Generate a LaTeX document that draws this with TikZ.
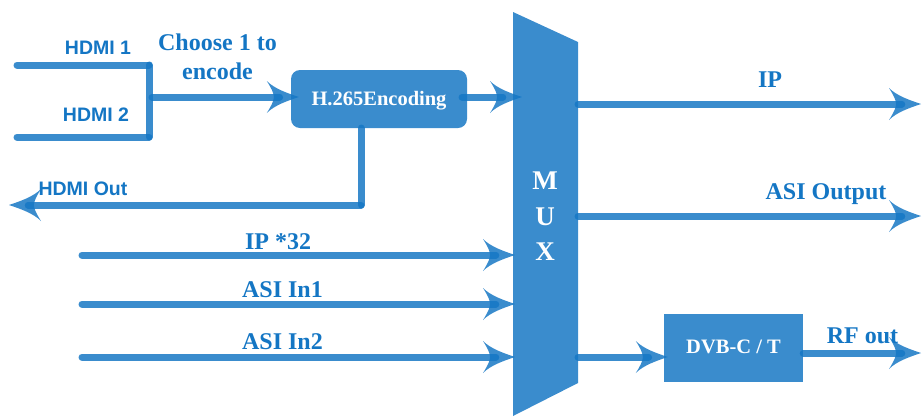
\documentclass[tikz,border=0pt]{standalone}
\usepackage{fontspec}
\setmainfont{Liberation Serif}
\setsansfont{Liberation Sans}
\usetikzlibrary{arrows.meta}
\definecolor{lineblue}{RGB}{20,118,196}

% arrow head with concave, swept-back barbs
\pgfdeclarearrow{
  name = Swept,
  parameters = {\the\pgfarrowlength,\the\pgfarrowwidth},
  setup code = {
    \pgfarrowssettipend{0pt}
    \pgfarrowssetlineend{-0.6\pgfarrowlength}
    \pgfarrowssetbackend{-\pgfarrowlength}
    \pgfarrowssavethe\pgfarrowlength
    \pgfarrowssavethe\pgfarrowwidth
  },
  drawing code = {
    \pgfpathmoveto{\pgfqpoint{0pt}{0pt}}
    \pgfpathcurveto{\pgfqpoint{-0.35\pgfarrowlength}{0.12\pgfarrowwidth}}
                   {\pgfqpoint{-0.75\pgfarrowlength}{0.25\pgfarrowwidth}}
                   {\pgfqpoint{-\pgfarrowlength}{0.5\pgfarrowwidth}}
    \pgfpathcurveto{\pgfqpoint{-0.86\pgfarrowlength}{0.28\pgfarrowwidth}}
                   {\pgfqpoint{-0.78\pgfarrowlength}{0.12\pgfarrowwidth}}
                   {\pgfqpoint{-0.78\pgfarrowlength}{0pt}}
    \pgfpathcurveto{\pgfqpoint{-0.78\pgfarrowlength}{-0.12\pgfarrowwidth}}
                   {\pgfqpoint{-0.86\pgfarrowlength}{-0.28\pgfarrowwidth}}
                   {\pgfqpoint{-\pgfarrowlength}{-0.5\pgfarrowwidth}}
    \pgfpathcurveto{\pgfqpoint{-0.75\pgfarrowlength}{-0.25\pgfarrowwidth}}
                   {\pgfqpoint{-0.35\pgfarrowlength}{-0.12\pgfarrowwidth}}
                   {\pgfqpoint{0pt}{0pt}}
    \pgfpathclose
    \pgfusepathqfill
  },
  defaults = {length = 30pt, width = 32pt}
}

\begin{document}
\begin{tikzpicture}[x=1pt,y=-1pt,
  wire/.style={draw=lineblue, opacity=0.84, line width=7pt, line cap=round},
  arr/.style={wire, -{Swept[length=32pt,width=32pt]}},
  blockbox/.style={fill=lineblue, fill opacity=0.84, inner sep=0pt},
  boxtext/.style={text=white, anchor=base, inner sep=0pt,
    font=\bfseries\fontsize{20.5}{24}\selectfont},
  lbl/.style={text=lineblue, anchor=base, inner sep=0pt,
    font=\bfseries\fontsize{24}{28}\selectfont},
  slbl/.style={text=lineblue, anchor=base, inner sep=0pt,
    font=\sffamily\bfseries\fontsize{19.5}{23}\selectfont},
  muxletter/.style={text=white, anchor=base, inner sep=0pt,
    font=\bfseries\fontsize{27}{30}\selectfont}]
\useasboundingbox (0,0) rectangle (922,416);

% multiplexer body
\fill[lineblue, opacity=0.84] (513,12) -- (578,42) -- (578,383) -- (513,416) -- cycle;
\node[muxletter] (muxM) at (545,189) {M};
\node[muxletter] (muxU) at (545,225) {U};
\node[muxletter] (muxX) at (545,260) {X};

% processing blocks
\node[blockbox, rounded corners=9pt, minimum width=176pt, minimum height=58pt]
  (enc) at (379,99) {};
\node[boxtext] (enctext) at (379,105) {H.265Encoding};
\node[blockbox, minimum width=139pt, minimum height=68pt] (dvb) at (733.5,348) {};
\node[boxtext] (dvbtext) at (733.5,353) {DVB-C / T};

% HDMI inputs and selector
\coordinate (h1a) at (17,65);   \coordinate (h1b) at (149,65);
\coordinate (h2a) at (17,137);  \coordinate (h2b) at (149,137);
\coordinate (sel) at (152,97);
\draw[wire] (h1a) -- (h1b);
\draw[wire] (h2a) -- (h2b);
\draw[wire] (h1b) -- (h2b);
\draw[arr] (sel) -- ([xshift=8pt]enc.west |- sel);

% encoder to mux and HDMI loop-out
\coordinate (encout) at (462,97);
\coordinate (muxenc) at (522,97);
\draw[arr] (encout) -- (muxenc);
\coordinate (encdown) at (361,128);
\coordinate (hoCorner) at (361,205);
\coordinate (hoEnd) at (9,205);
\draw[wire] (encdown) -- (hoCorner);
\draw[arr] (hoCorner) -- (hoEnd);

% other mux inputs
\coordinate (ipA) at (82,255);  \coordinate (ipB) at (515,255);
\coordinate (a1A) at (82,304);  \coordinate (a1B) at (515,304);
\coordinate (a2A) at (82,357);  \coordinate (a2B) at (515,357);
\draw[arr] (ipA) -- (ipB);
\draw[arr] (a1A) -- (a1B);
\draw[arr] (a2A) -- (a2B);

% mux outputs
\coordinate (ipoA) at (578,104);  \coordinate (ipoB) at (921,104);
\coordinate (asoA) at (578,216);  \coordinate (asoB) at (921,216);
\coordinate (rfA) at (578,357);
\coordinate (rfoB) at (921,353);
\draw[arr] (ipoA) -- (ipoB);
\draw[arr] (asoA) -- (asoB);
\draw[arr] (rfA) -- ([xshift=4pt]dvb.west |- rfA);
\draw[arr] (dvb.east |- rfoB) -- (rfoB);

% labels
\node[slbl] (lh1) at (98,54) {HDMI 1};
\node[slbl] (lh2) at (96,121) {HDMI 2};
\node[slbl] (lho) at (83,195) {HDMI Out};
\node[lbl] (lch1) at (217.5,50) {Choose 1 to};
\node[lbl] (lch2) at (217.5,79) {encode};
\node[lbl] (lip) at (278,249) {IP *32};
\node[lbl] (la1) at (282.5,297) {ASI In1};
\node[lbl] (la2) at (282.5,349) {ASI In2};
\node[lbl] (lipo) at (770,87) {IP};
\node[lbl] (laso) at (826,199) {ASI Output};
\node[lbl] (lrf) at (862.5,343) {RF out};
\end{tikzpicture}
\end{document}
